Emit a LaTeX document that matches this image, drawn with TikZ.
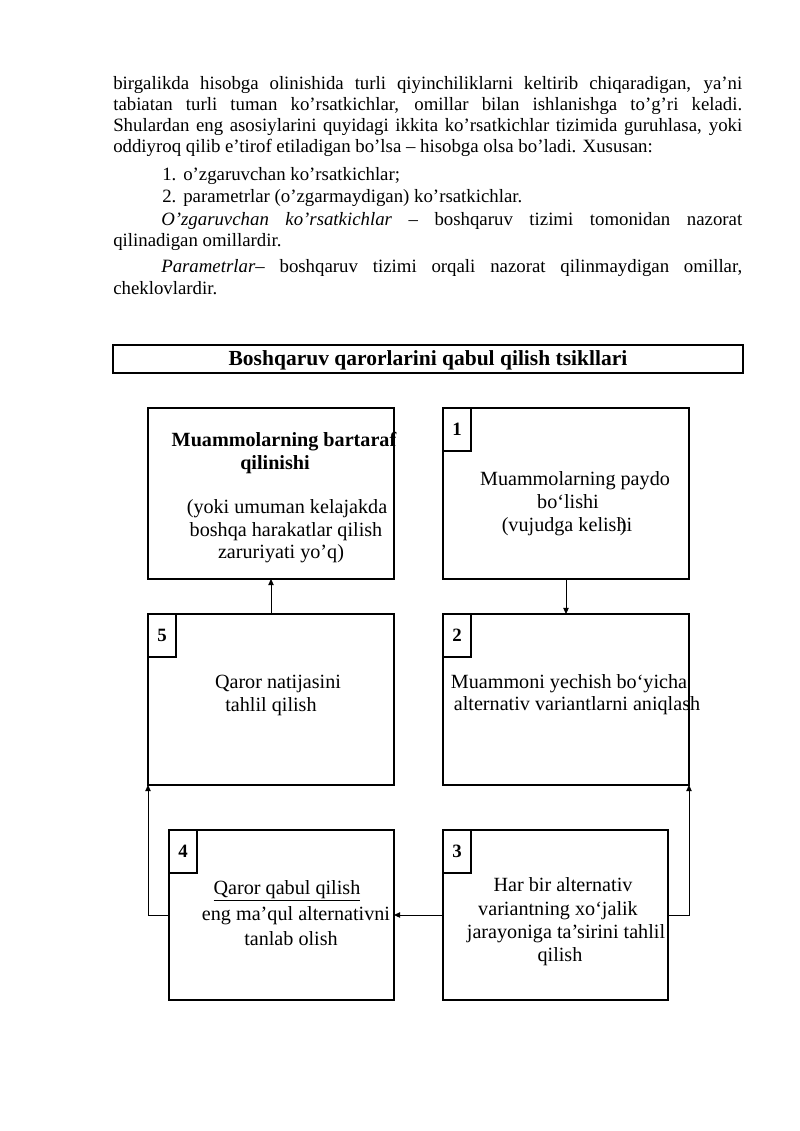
\documentclass[tikz,border=0pt]{standalone}
\usepackage{fontspec}
\setmainfont{Liberation Serif}
\usetikzlibrary{arrows.meta}
\newcommand\pxu{0.7441pt}
\begin{document}
\begin{tikzpicture}[x=0.7441pt,y=-0.7441pt,
  body/.style={anchor=base west,inner sep=0pt,font=\fontsize{14}{16}\selectfont},
  btxt/.style={anchor=base,inner sep=0pt,font=\fontsize{15}{17}\selectfont},
  bbold/.style={btxt,font=\fontsize{15}{17}\selectfont\bfseries},
  frame/.style={draw,line width=0.8pt,inner sep=0pt,outer sep=0pt,anchor=north west},
  bigbox/.style={frame,minimum width=246*\pxu,minimum height=171*\pxu},
  midbox/.style={frame,minimum width=225*\pxu,minimum height=170*\pxu},
  numbox/.style={frame,minimum width=28*\pxu,minimum height=43*\pxu,font=\fontsize{14}{16}\selectfont\bfseries},
  conn/.style={line width=0.7pt,-{Triangle[length=4.5pt,width=4pt]}}]
\useasboundingbox (0,0) rectangle (800,1131);
\fill[white] (0,0) rectangle (800,1131);

% body text
\node[body] (l1) at (113,89) {\makebox[468pt][s]{birgalikda hisobga olinishida turli qiyinchiliklarni keltirib chiqaradigan, ya’ni}};
\node[body] (l2) at (113,110) {\makebox[468pt][s]{tabiatan turli tuman ko’rsatkichlar, omillar bilan ishlanishga to’g’ri keladi.}};
\node[body] (l3) at (113,131) {\makebox[468pt][s]{Shulardan eng asosiylarini quyidagi ikkita ko’rsatkichlar tizimida guruhlasa, yoki}};
\node[body] (l4) at (113,152) {oddiyroq qilib e’tirof etiladigan bo’lsa – hisobga olsa bo’ladi. Xususan:};
\node[body] (n1) at (162,180) {1.};
\node[body] (i1) at (183,180) {o’zgaruvchan ko’rsatkichlar;};
\node[body] (n2) at (162,202) {2.};
\node[body] (i2) at (183,202) {parametrlar (o’zgarmaydigan) ko’rsatkichlar.};
\node[body] (l5) at (161,225) {\makebox[432.3pt][s]{\textit{O’zgaruvchan ko’rsatkichlar} – boshqaruv tizimi tomonidan nazorat}};
\node[body] (l6) at (113,246) {qilinadigan omillardir.};
\node[body] (l7) at (161,272) {\makebox[432.3pt][s]{\textit{Parametrlar}– boshqaruv tizimi orqali nazorat qilinmaydigan omillar,}};
\node[body] (l8) at (113,294) {cheklovlardir.};

% title
\node[draw,line width=1.6pt,inner sep=0pt,outer sep=0pt,minimum width=630*\pxu,minimum height=28*\pxu,anchor=north west] (title) at (113,345) {};
\node[anchor=base,inner sep=0pt,font=\fontsize{16}{18}\selectfont\bfseries] (tt) at (428,365) {Boshqaruv qarorlarini qabul qilish tsikllari};

% boxes
\node[bigbox] (r0) at (148,408) {};
\node[bigbox] (b1) at (443,408) {};
\node[bigbox] (b5) at (148,614) {};
\node[bigbox] (b2) at (443,614) {};
\node[midbox] (b4) at (169,830) {};
\node[midbox] (b3) at (443,830) {};

\node[numbox] (k1) at (b1.north west) {1};
\node[numbox] (k5) at (b5.north west) {5};
\node[numbox] (k2) at (b2.north west) {2};
\node[numbox] (k4) at (b4.north west) {4};
\node[numbox] (k3) at (b3.north west) {3};

% box texts
\node[bbold] (t01) at (284,446) {Muammolarning bartaraf};
\node[bbold] (t02) at (275,469) {qilinishi};
\node[btxt] (t03) at (287,513) {(yoki umuman kelajakda};
\node[btxt] (t04) at (286,536) {boshqa harakatlar qilish};
\node[btxt] (t05) at (281,558) {zaruriyati yo’q)};

\node[btxt] (t11) at (575,485) {Muammolarning paydo};
\node[btxt] (t12) at (568,508) {bo‘lishi};
\node[btxt] (t13) at (567,531) {(vujudga kelish\llap{)}i};

\node[btxt] (t21) at (569,688) {Muammoni yechish bo‘yicha};
\node[btxt] (t22) at (577,710) {alternativ variantlarni aniqlash};

\node[btxt] (t51) at (278,688) {Qaror natijasini};
\node[btxt] (t52) at (271,711) {tahlil qilish};

\node[btxt] (t41) at (287,894) {\underline{Qaror qabul qilish}};
\node[btxt] (t42) at (296,920) {eng ma’qul alternativni};
\node[btxt] (t43) at (291,945) {tanlab olish};

\node[btxt] (t31) at (563,891) {Har bir alternativ};
\node[btxt] (t32) at (558,915) {variantning xo‘jalik};
\node[btxt] (t33) at (566,938) {jarayoniga ta’sirini tahlil};
\node[btxt] (t34) at (560,961) {qilish};

% connectors
\draw[conn] (b5.north) -- (r0.south);
\draw[conn] (b1.south) -- (b2.north);
\draw[conn] (b3.west) -- (b4.east);
\draw[conn] (b4.west) -| (b5.south west);
\draw[conn] (b3.east) -| (b2.south east);
\end{tikzpicture}
\end{document}
